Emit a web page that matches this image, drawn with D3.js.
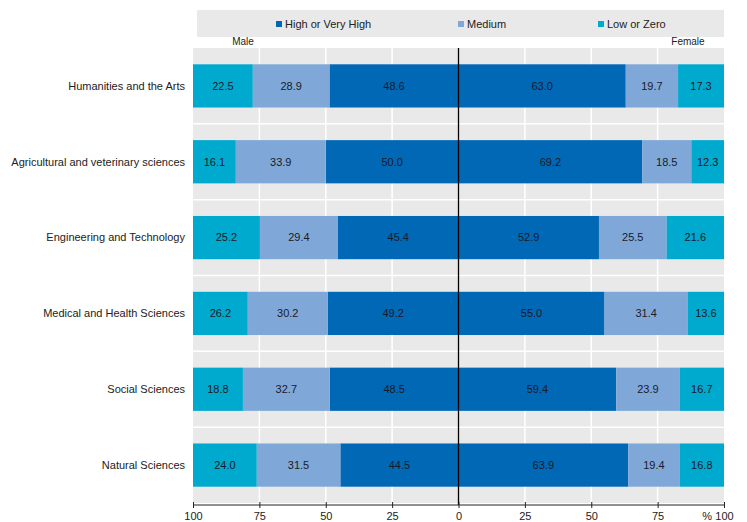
<!DOCTYPE html>
<html>
<head>
<meta charset="utf-8">
<script src="https://cdn.jsdelivr.net/npm/d3@7"></script>
<style>
  body { margin: 0; background: #fff; }
  svg { font-family: "Liberation Sans", Arial, sans-serif; }
</style>
</head>
<body>
<svg id="chart" width="747" height="522"></svg>
<script>
var categories = [
  "Humanities and the Arts",
  "Agricultural and veterinary sciences",
  "Engineering and Technology",
  "Medical and Health Sciences",
  "Social Sciences",
  "Natural Sciences"
];
var levels = ["High or Very High", "Medium", "Low or Zero"];

// male values: high, medium, low
var maleHigh = [48.6, 50.0, 45.4, 49.2, 48.5, 44.5];
var maleMedium = [28.9, 33.9, 29.4, 30.2, 32.7, 31.5];
var maleLow = [22.5, 16.1, 25.2, 26.2, 18.8, 24.0];
// female values
var femaleHigh = [63.0, 69.2, 52.9, 55.0, 59.4, 63.9];
var femaleMedium = [19.7, 18.5, 25.5, 31.4, 23.9, 19.4];
var femaleLow = [17.3, 12.3, 21.6, 13.6, 16.7, 16.8];

var tickValues = [0, 25, 50, 75, 100];

var colors = ["#0068b5", "#7fa8d8", "#00a9ce"];

var svg = d3.select("#chart");
var plotLeft = 193, center = 458.5, plotRight = 724, plotTop = 48, plotBottom = 503;

var xL = d3.scaleLinear().domain([0, 100]).range([center, plotLeft]);
var xR = d3.scaleLinear().domain([0, 100]).range([center, plotRight]);
var y = d3.scaleBand().domain(categories).range([plotTop, plotBottom])
  .paddingInner(0.43).paddingOuter(0.215);
var color = d3.scaleOrdinal().domain(levels).range(colors);

// legend box
svg.append("rect").attr("x", 197).attr("y", 10).attr("width", plotRight - 197).attr("height", 27)
  .attr("fill", "#e9e9e9");
var legendX = [276, 458, 598];
var legend = svg.selectAll(".legend").data(levels).enter().append("g")
  .attr("transform", function(d, i) { return "translate(" + legendX[i] + ",24)"; });
legend.append("rect").attr("x", 0).attr("y", -3).attr("width", 6).attr("height", 6)
  .attr("fill", color);
legend.append("text").attr("x", 9).attr("dy", "0.35em").attr("font-size", 11)
  .attr("fill", "#222").text(function(d) { return d; });

svg.append("text").attr("x", 243).attr("y", 45).attr("text-anchor", "middle")
  .attr("font-size", 10).attr("fill", "#222").text("Male");
svg.append("text").attr("x", 688).attr("y", 45).attr("text-anchor", "middle")
  .attr("font-size", 10).attr("fill", "#222").text("Female");

// plot background
svg.append("rect").attr("x", plotLeft).attr("y", plotTop).attr("width", plotRight - plotLeft)
  .attr("height", plotBottom - plotTop).attr("fill", "#e9e9e9");

var grid = svg.append("g").attr("stroke", "#fff").attr("stroke-width", 1.5);
[25, 50, 75].forEach(function(v) {
  grid.append("line").attr("x1", xL(v)).attr("x2", xL(v)).attr("y1", plotTop).attr("y2", plotBottom);
  grid.append("line").attr("x1", xR(v)).attr("x2", xR(v)).attr("y1", plotTop).attr("y2", plotBottom);
});
categories.slice(1).forEach(function(c) {
  var yy = y(c) - y.step() * y.paddingInner() / 2;
  grid.append("line").attr("x1", plotLeft).attr("x2", plotRight).attr("y1", yy).attr("y2", yy);
});

// build segments
var segments = [];
categories.forEach(function(c, i) {
  var m = [maleHigh[i], maleMedium[i], maleLow[i]];
  var f = [femaleHigh[i], femaleMedium[i], femaleLow[i]];
  var acc = 0;
  m.forEach(function(v, k) {
    var a = Math.min(acc, 100), b = Math.min(acc + v, 100);
    segments.push({ cat: c, level: levels[k], value: v, x0: xL(b), x1: xL(a) });
    acc += v;
  });
  acc = 0;
  f.forEach(function(v, k) {
    var a = Math.min(acc, 100), b = Math.min(acc + v, 100);
    segments.push({ cat: c, level: levels[k], value: v, x0: xR(a), x1: xR(b) });
    acc += v;
  });
});

svg.append("g").selectAll("rect").data(segments).enter().append("rect")
  .attr("x", function(d) { return d.x0; })
  .attr("width", function(d) { return d.x1 - d.x0; })
  .attr("y", function(d) { return y(d.cat); })
  .attr("height", y.bandwidth())
  .attr("fill", function(d) { return color(d.level); });

svg.append("g").selectAll("text").data(segments).enter().append("text")
  .attr("x", function(d) { return (d.x0 + d.x1) / 2; })
  .attr("y", function(d) { return y(d.cat) + y.bandwidth() / 2; })
  .attr("dy", "0.35em").attr("text-anchor", "middle").attr("font-size", 11)
  .attr("fill", "#1a1a2a")
  .text(function(d) { return d.value.toFixed(1); });

// category labels
svg.append("g").selectAll("text").data(categories).enter().append("text")
  .attr("x", 185).attr("y", function(d) { return y(d) + y.bandwidth() / 2; })
  .attr("dy", "0.35em").attr("text-anchor", "end").attr("font-size", 11)
  .attr("fill", "#222").text(function(d) { return d; });

// center line
svg.append("line").attr("x1", center).attr("x2", center).attr("y1", plotTop).attr("y2", 505)
  .attr("stroke", "#000").attr("stroke-width", 1.3);

// axes
var axisY = 505;
var axL = svg.append("g").attr("transform", "translate(0," + axisY + ")")
  .call(d3.axisBottom(xL).tickValues(tickValues).tickSize(3).tickPadding(4));
var axR = svg.append("g").attr("transform", "translate(0," + axisY + ")")
  .call(d3.axisBottom(xR).tickValues(tickValues.slice(1)).tickSize(3).tickPadding(4));
[axL, axR].forEach(function(ax) {
  ax.select(".domain").remove();
  ax.selectAll(".tick line").attr("stroke", "#222").attr("y1", -3);
  ax.selectAll(".tick text").attr("font-size", 11).attr("fill", "#222")
    .attr("font-family", "Liberation Sans, Arial, sans-serif");
});
svg.append("line").attr("x1", plotLeft).attr("x2", plotRight).attr("y1", axisY).attr("y2", axisY)
  .attr("stroke", "#222");
svg.append("text").attr("x", 712).attr("y", axisY + 7).attr("dy", "0.71em")
  .attr("text-anchor", "end").attr("font-size", 11).attr("fill", "#222").text("%");
</script>
</body>
</html>
